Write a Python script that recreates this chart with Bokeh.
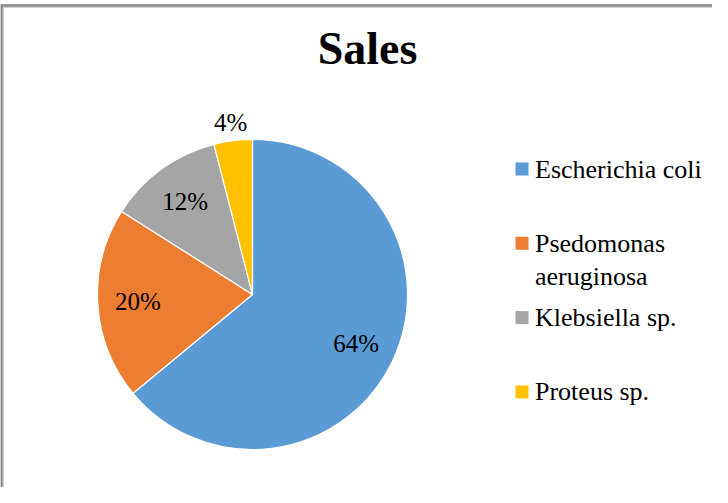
import math
from bokeh.plotting import figure
from bokeh.models import Range1d, ColumnDataSource
from bokeh.core.properties import value
from bokeh.embed import file_html
from bokeh.resources import INLINE

# ---- data ----
title_text = "Sales"
categories = ["Escherichia coli", "Psedomonas\naeruginosa", "Klebsiella sp.", "Proteus sp."]
shares = [64, 20, 12, 4]
colors = ["#5B9BD5", "#ED7D31", "#A5A5A5", "#FFC000"]

W, H = 712, 487
PAGE_H = 503
SERIF = value("Liberation Serif")

def py(y_page):
    return PAGE_H - y_page

p = figure(width=W, height=H, output_backend="svg", toolbar_location=None,
           x_range=Range1d(8, 8 + W), y_range=Range1d(PAGE_H - 8 - H, PAGE_H - 8),
           x_axis_type=None, y_axis_type=None, min_border=0)
p.grid.visible = False
p.outline_line_color = None
p.background_fill_color = "white"
p.border_fill_color = "white"

# frame lines (top and left only)
p.segment(x0=[8, 9], y0=[py(13), py(13)], x1=[728, 9], y1=[py(13), py(503)],
          line_color="#878787", line_width=2.5)
p.segment(x0=[10.5], y0=[py(15)], x1=[728], y1=[py(15)], line_color="#d0d0d0", line_width=1)
p.segment(x0=[11], y0=[py(15)], x1=[11], y1=[py(503)], line_color="#d0d0d0", line_width=1)

# pie
cx, cy, R = 260, py(302), 155
total = sum(shares)
starts, ends, mids = [], [], []
acc = 0.0
for s in shares:
    a0 = math.pi / 2 - 2 * math.pi * acc / total
    acc += s
    a1 = math.pi / 2 - 2 * math.pi * acc / total
    starts.append(a0)
    ends.append(a1)
    mids.append((a0 + a1) / 2)

src = ColumnDataSource(dict(start=starts, end=ends, color=colors))
p.wedge(x=cx, y=cy, radius=R, start_angle="start", end_angle="end", direction="clock",
        fill_color="color", line_color="white", line_width=1.2, source=src)

lx, ly, lt = [], [], []
for s, m in zip(shares, mids):
    rf = 1.12 if s < 5 else 0.74
    lx.append(cx + rf * R * math.cos(m))
    ly.append(cy + rf * R * math.sin(m))
    lt.append(f"{round(100 * s / total)}%")
p.text(x=lx, y=ly, text=lt, text_font=SERIF, text_font_size="25px",
       text_align="center", text_baseline="middle", text_color="black")

# title
p.text(x=[375], y=[py(56)], text=[title_text], text_font=SERIF,
       text_font_size="46px", text_font_style="bold", text_align="center",
       text_baseline="middle", text_color="black")

# legend
leg_x, leg_y0, leg_step, line_h = 529.5, 176.5, 74.3, 33
sq_x, sq_y, tx, ty, tt = [], [], [], [], []
for i, c in enumerate(categories):
    yy = leg_y0 + i * leg_step
    sq_x.append(leg_x)
    sq_y.append(py(yy))
    for k, line in enumerate(c.split("\n")):
        tx.append(leg_x + 13)
        ty.append(py(yy + k * line_h))
        tt.append(line)
p.scatter(x=sq_x, y=sq_y, marker="square", size=13, fill_color=colors, line_color=None)
p.text(x=tx, y=ty, text=tt, text_font=SERIF, text_font_size="26px",
       text_align="left", text_baseline="middle", text_color="black")

open("out.html", "w").write(file_html(p, INLINE))
